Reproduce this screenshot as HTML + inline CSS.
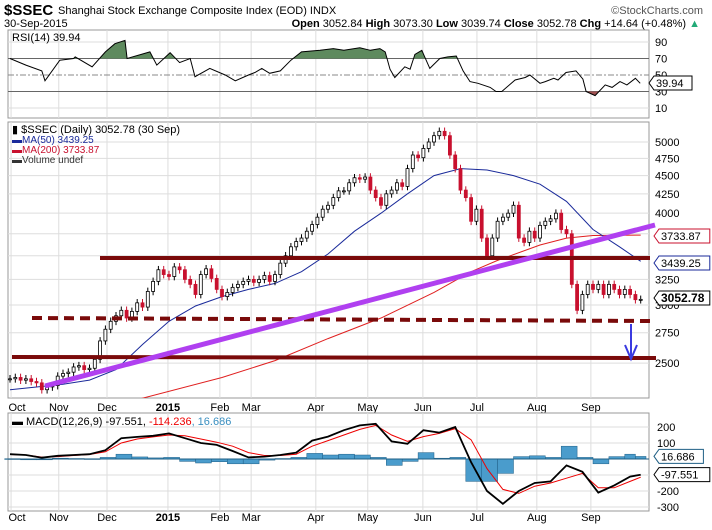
<!DOCTYPE html>
<html><head><meta charset="utf-8"><style>
body{margin:0;background:#fff}
svg{display:block;font-family:"Liberation Sans",sans-serif}
</style></head><body>
<svg id="c" width="712" height="530" viewBox="0 0 712 530">
<rect width="712" height="530" fill="#fff"/>
<text x="4" y="15" font-size="15" font-weight="bold">$SSEC</text>
<text x="58" y="14" font-size="11">Shanghai Stock Exchange Composite Index (EOD)  INDX</text>
<text x="703" y="14" font-size="11" fill="#555" text-anchor="end">©StockCharts.com</text>
<text x="4" y="27" font-size="11">30-Sep-2015</text>
<text x="700" y="27" font-size="11" text-anchor="end"><tspan font-weight="bold">Open</tspan> 3052.84 <tspan font-weight="bold">High</tspan> 3073.30 <tspan font-weight="bold">Low</tspan> 3039.74 <tspan font-weight="bold">Close</tspan> 3052.78 <tspan font-weight="bold">Chg</tspan> +14.64 (+0.48%) <tspan fill="#2a7">▲</tspan></text>
<g id="rsi"></g>
<g id="main"></g>
<g id="macd"></g>
</svg>
<script>
const NS="http://www.w3.org/2000/svg";
const monthLabels=["Oct","Nov","Dec","2015","Feb","Mar","Apr","May","Jun","Jul","Aug","Sep"];
const monthIdx=[0.2,9.2,18.3,29.8,39.6,45.5,57.7,67.5,77.9,88.1,99.4,109.6];
const closes=[2380,2390,2370,2380,2360,2350,2300,2320,
2330,2400,2420,2430,2470,2480,2450,2460,2530,2680,
2780,2850,2900,2950,2880,2940,3020,2980,3130,3230,
3350,3300,3280,3380,3350,3250,3200,3100,3300,3360,3260,
3150,3080,3120,3170,3200,3230,3250,3220,
3250,3290,3230,3300,3420,3500,3600,3660,3700,3780,
3860,3950,4050,4100,4200,4290,4290,4400,4470,4450,4480,
4300,4200,4100,4250,4300,4400,4350,4600,4800,4760,
4900,5000,5100,5170,5100,4800,4600,4300,4200,3900,
4050,3700,3500,3700,3900,3950,4000,4100,3700,3650,3780,
3700,3850,3900,3930,4000,3800,3750,3200,2950,3100,
3200,3150,3200,3100,3200,3150,3100,3150,3100,3050,3053];
const ma50Idx=[0,5,10,15,20,25,30,35,40,45,50,55,60,65,70,75,80,85,90,95,100,105,110,115,119];
const ma50Val=[2300,2320,2340,2370,2450,2650,2850,2990,3080,3150,3210,3330,3520,3780,4000,4250,4500,4600,4580,4500,4380,4150,3800,3600,3440];
const ma200Idx=[24,40,50,60,70,80,87,92,100,105,110,119];
const ma200Val=[2230,2390,2520,2700,2880,3120,3330,3450,3620,3700,3730,3734];
const priceTicks=[5000,4750,4500,4250,4000,3250,3000,2750,2500];
const rsiIdx=[0,3,6,6.6,9.4,12,12.3,15.5,18,19.8,21.7,22.1,26.4,27.7,30.2,32,34,34.9,37.7,40.6,42.5,45,46.2,47.5,49,51,53,55,58.5,61,63,66,68,69.8,70.8,71.7,72.6,74.5,75.5,76.4,77.7,79.2,81.1,82.6,84.2,85.5,86.8,88.3,90.6,91.7,92.8,95.3,97.2,98.1,100,101,102.6,103.4,104.9,106.8,108.1,108.7,110.4,112.3,113.6,115.1,116.4,118,118.9];
const rsiVal=[70,62,55,43,68,70,72,60,78,88,92,70,78,62,77,65,70,48,58,50,43,50,53,58,52,55,68,78,80,82,80,83,80,82,78,57,47,60,57,75,80,58,70,72,73,55,42,40,35,30,30,44,47,50,40,42,46,44,53,55,45,30,25,38,35,42,38,46,40];
const macdIdx=[0,3,6,9,12,15,18,21,24,27,30,33,36,39,42,45,48,51,54,57,60,63,66,69,72,75,78,81,84,87,90,93,96,99,102,105,108,111,114,117,119];
const macdVal=[30,25,8,20,25,30,55,130,138,145,160,130,100,88,50,10,15,25,40,115,140,180,210,220,110,95,180,165,200,-20,-200,-280,-200,-150,-140,-40,-80,-210,-165,-110,-98];
const signalVal=[28,25,12,15,22,28,45,100,125,138,150,145,125,105,80,40,22,22,30,80,115,150,185,210,150,110,140,160,190,120,-60,-190,-215,-170,-150,-120,-90,-180,-180,-140,-114];
const macdTicks=[200,100,-200,-300];

const X0=10,DX=5.3;
const xi=i=>X0+i*DX;
const pTop=122,pBot=398;
const yP=p=>142+319*Math.log(5000/p);
const yR=v=>108-(v-10)*0.825;
const yM=v=>459-v*0.16;
function el(tag,attrs,parent,text){const e=document.createElementNS(NS,tag);for(const k in attrs)e.setAttribute(k,attrs[k]);if(text!==undefined)e.textContent=text;parent.appendChild(e);return e;}
function pts(idx,val,fy){return idx.map((t,k)=>xi(t).toFixed(1)+","+fy(val[k]).toFixed(1)).join(" ");}

function panelFrame(g,top,bot,name){
  const r=el("rect",{x:8,y:top,width:641,height:bot-top,fill:"#fff",stroke:"#999"},g);
  
  
  monthIdx.forEach((m,k)=>{const l=el("line",{x1:xi(m),x2:xi(m),y1:top,y2:bot,stroke:"#ddd"},g);
    
    });
}
function xLabels(g,y){
  monthLabels.forEach((m,k)=>{const t=el("text",{x:xi(monthIdx[k])+(k==0?6:0),y:y,"font-size":11,"text-anchor":"middle","font-weight":m=="2015"?"bold":"normal"},g,m);
    
    });
}
function box(g,x,y,txt,col,bold,name){
  const w=txt.length*6.4+6;
  const b=el("path",{d:`M${x-5},${y} L${x},${y-7} L${x+w},${y-7} L${x+w},${y+7} L${x},${y+7} Z`,fill:"#fff",stroke:col},g);
  
  
  const t=el("text",{x:x+2,y:y+4,"font-size":bold?12:11,"font-weight":bold?"bold":"normal"},g,txt);
  
  
}
// RSI
const gR=document.getElementById("rsi");
panelFrame(gR,30,118,"rsi");
[90,70,50,30,10].forEach(v=>{
  const l=el("line",{x1:8,x2:649,y1:yR(v),y2:yR(v),stroke:(v==70||v==30)?"#666":(v==50?"#888":"#ddd"),"stroke-dasharray":v==50?"6,2,2,2":"none"},gR);
  
  
  const t=el("text",{x:655,y:yR(v)+4,"font-size":11},gR,String(v));
  
  
});
const cp=el("clipPath",{id:"ob"},gR);el("rect",{x:8,y:30,width:641,height:yR(70)-30},cp);
const cp2=el("clipPath",{id:"os"},gR);el("rect",{x:8,y:yR(30),width:641,height:118-yR(30)},cp2);
const rp=pts(rsiIdx,rsiVal,yR);
const a1=el("polygon",{points:`${xi(0)},${yR(70)} ${rp} ${xi(rsiIdx[rsiIdx.length-1])},${yR(70)}`,fill:"#5e8a5e",stroke:"none","clip-path":"url(#ob)"},gR);


const a2=el("polygon",{points:`${xi(0)},${yR(30)} ${rp} ${xi(rsiIdx[rsiIdx.length-1])},${yR(30)}`,fill:"#a05050",stroke:"none","clip-path":"url(#os)"},gR);


const rl=el("polyline",{points:rp,fill:"none",stroke:"#000","stroke-width":1},gR);


const rt=el("text",{x:12,y:41,"font-size":11},gR,"RSI(14) 39.94");


box(gR,654,83,"39.94","#000",false,"rsi-last");

// Main
const gM=document.getElementById("main");
panelFrame(gM,pTop,pBot,"price");
priceTicks.forEach(p=>{
  const l=el("line",{x1:8,x2:649,y1:yP(p),y2:yP(p),stroke:"#ddd"},gM);
  
  
  const t=el("text",{x:655,y:yP(p)+4,"font-size":11},gM,String(p));
  
  
});
[3750,3500].forEach(p=>{const l=el("line",{x1:8,x2:649,y1:yP(p),y2:yP(p),stroke:"#ddd"},gM);
  
  });
const cpm=el("clipPath",{id:"mc"},gM);el("rect",{x:8,y:pTop,width:641,height:pBot-pTop},cpm);
const gC=el("g",{"clip-path":"url(#mc)"},gM);
const m200=el("polyline",{points:pts(ma200Idx,ma200Val,yP),fill:"none",stroke:"#e02020","stroke-width":1},gC);


const m50=el("polyline",{points:pts(ma50Idx,ma50Val,yP),fill:"none",stroke:"#1a2a9a","stroke-width":1},gC);


closes.forEach((c,i)=>{
  const o=i?closes[i-1]:c, x=xi(i), up=c>=o;
  const hi=Math.max(o,c)*1.012, lo=Math.min(o,c)*0.988;
  const w=el("line",{x1:x,x2:x,y1:yP(hi),y2:yP(lo),stroke:up?"#000":"#c8102e"},gC);
  
  
  const y1=yP(Math.max(o,c)),y2=yP(Math.min(o,c));
  const r=el("rect",{x:x-1.5,y:y1,width:3,height:Math.max(1,y2-y1),fill:up?"#fff":"#c8102e",stroke:up?"#000":"#c8102e","stroke-width":0.8},gC);
  
  
});
// annotations
const ann=[["resistance-line",`M100,258 L650,258`,"#7a0a0a",4,"none"],
["support-dashed-line",`M32,318 L650,321`,"#7a0a0a",4,"10,6"],
["target-line",`M12,357 L656,358`,"#7a0a0a",4,"none"],
["trend-line",`M45,386 L655,225`,"#b040f0",5,"none"]];
ann.forEach(a=>{const p=el("path",{d:a[1],stroke:a[2],"stroke-width":a[3],"stroke-dasharray":a[4],fill:"none"},gM);
  
  });
const arr=el("path",{d:"M631,324 L631,359 M625,345 L631,359 L637,345",stroke:"#3a3ae0","stroke-width":2,fill:"none"},gM);


const lg=[["$SSEC (Daily) 3052.78 (30 Sep)","#000",133],["MA(50) 3439.25","#1a2a9a",143],["MA(200) 3733.87","#c8102e",153],["Volume undef","#333",163]];
lg.forEach((l,k)=>{const t=el("text",{x:12,y:l[2],"font-size":k?10:11,fill:l[1]},gM,(k==0?"▮ ":"▬")+l[0]);
  
  });
box(gM,659,236,"3733.87","#c8102e",false,"ma200-last");
box(gM,659,263,"3439.25","#1a2a9a",false,"ma50-last");
box(gM,659,298,"3052.78","#000",true,"close-last");
xLabels(gM,411);

// MACD
const gD=document.getElementById("macd");
panelFrame(gD,413,511,"macd");
[200,100,0,-100,-200,-300].forEach(v=>{
  const l=el("line",{x1:8,x2:649,y1:yM(v),y2:yM(v),stroke:"#ddd"},gD);
  
  
});
macdTicks.forEach(v=>{const t=el("text",{x:657,y:yM(v)+4,"font-size":11},gD,String(v));
  
  });
macdIdx.forEach((t,k)=>{
  const h=macdVal[k]-signalVal[k];
  const w=(k<macdIdx.length-1?macdIdx[k+1]-t:2)*DX;
  const y=Math.min(yM(0),yM(h));
  const r=el("rect",{x:xi(t)-DX,y:y,width:w,height:Math.max(0.8,Math.abs(yM(h)-yM(0))),fill:"#4a9ccc",stroke:"#1f5f85","stroke-width":0.5},gD);
  
  
});
const zl=el("line",{x1:8,x2:649,y1:yM(0),y2:yM(0),stroke:"#1f5f85"},gD);


const sl=el("polyline",{points:pts(macdIdx,signalVal,yM),fill:"none",stroke:"#e00","stroke-width":1},gD);


const ml=el("polyline",{points:pts(macdIdx,macdVal,yM),fill:"none",stroke:"#000","stroke-width":1.8},gD);


const mt=el("text",{x:12,y:425,"font-size":11},gD);


el("tspan",{},mt,"▬ MACD(12,26,9) -97.551, ");
el("tspan",{fill:"#e00"},mt,"-114.236");
el("tspan",{fill:"#3a8fc0"},mt,", 16.686");
box(gD,659,yM(16.686),"16.686","#1f5f85",false,"macd-hist-last");
box(gD,659,yM(-97.551),"-97.551","#000",false,"macd-last");
xLabels(gD,521);
</script>
</body></html>
